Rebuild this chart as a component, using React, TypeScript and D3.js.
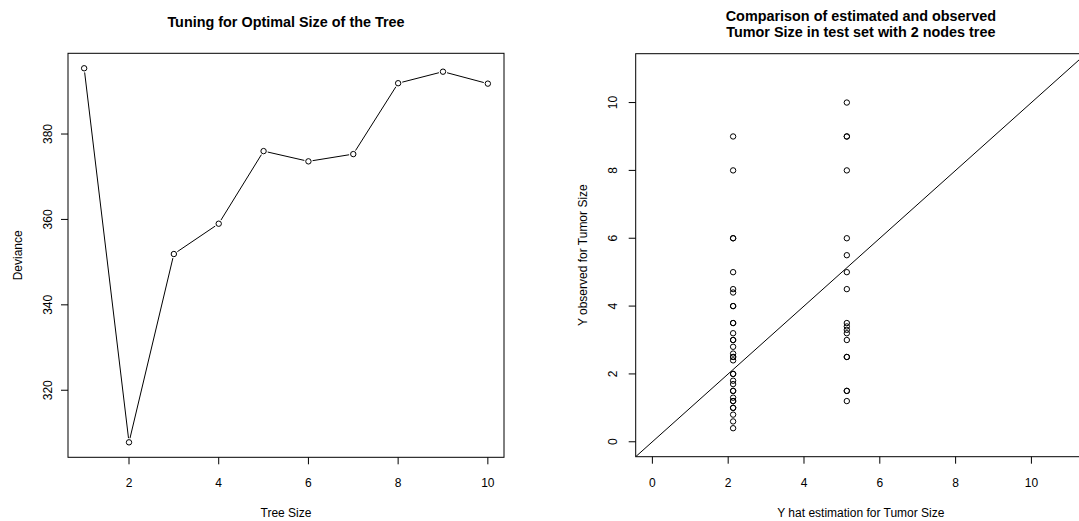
import React from "react";
import * as d3 from "d3";

// Cross-validation deviance by tree size
const treeSizes = [1, 2, 3, 4, 5, 6, 7, 8, 9, 10];
const deviance = [395.4, 307.8, 351.9, 359.0, 376.0, 373.6, 375.3, 391.9, 394.6, 391.8];
const sizeTicks = [2, 4, 6, 8, 10];
const devianceTicks = [320, 340, 360, 380];

// Test-set predictions of the 2-node tree (one fitted value per leaf)
const leafFits = [2.13, 5.13];
const observedLowLeaf = [
  9, 8, 6, 6, 5, 4.5, 4.4, 4, 4, 3.5, 3.5, 3.2, 3, 3, 2.8, 2.6, 2.5, 2.5, 2.4,
  2, 2, 1.8, 1.7, 1.5, 1.5, 1.3, 1.2, 1.2, 1, 1, 0.8, 0.6, 0.4,
];
const observedHighLeaf = [10, 9, 9, 8, 6, 5.5, 5, 4.5, 3.5, 3.4, 3.3, 3.2, 3, 2.5, 2.5, 1.5, 1.5, 1.2];
const scatterLimits = [0, 11];
const scatterTicks = [0, 2, 4, 6, 8, 10];

const FONT = "'Liberation Sans', Arial, Helvetica, sans-serif";
const R_PT = 2.7;
const TICK = 7;

// R-style axis range: data limits padded by 4% on each side
const pad = ([a, b]: number[]) => {
  const e = (b - a) * 0.04;
  return [a - e, b + e];
};

export default function App() {
  // ---- left panel ----
  const L = { left: 68, right: 504, top: 53.3, bottom: 457.3 };
  const xL = d3.scaleLinear().domain(pad(d3.extent(treeSizes) as number[])).range([L.left, L.right]);
  const yL = d3.scaleLinear().domain(pad(d3.extent(deviance) as number[])).range([L.bottom, L.top]);
  const ptsL = treeSizes.map((s, i) => [xL(s), yL(deviance[i])]);
  const gap = R_PT + 1.5;
  const segs = ptsL.slice(1).map((p, i) => {
    const q = ptsL[i];
    const dx = p[0] - q[0];
    const dy = p[1] - q[1];
    const len = Math.hypot(dx, dy);
    const ux = dx / len;
    const uy = dy / len;
    return [q[0] + ux * gap, q[1] + uy * gap, p[0] - ux * gap, p[1] - uy * gap];
  });

  // ---- right panel ----
  const R = { left: 635.7, right: 1086, top: 53.7, bottom: 456.7 };
  const xR = d3.scaleLinear().domain(pad(scatterLimits)).range([R.left, R.right]);
  const yR = d3.scaleLinear().domain(pad(scatterLimits)).range([R.bottom, R.top]);
  const scatter = [
    ...observedLowLeaf.map((v) => [leafFits[0], v]),
    ...observedHighLeaf.map((v) => [leafFits[1], v]),
  ];
  const [d0, d1] = xR.domain();

  return (
    <svg
      width={1079}
      height={521}
      style={{ position: "absolute", left: 0, top: 0, display: "block", background: "#fff" }}
      fontFamily={FONT}
    >
      <defs>
        <clipPath id="plotR">
          <rect x={R.left} y={R.top} width={R.right - R.left} height={R.bottom - R.top} />
        </clipPath>
      </defs>

      {/* Left: deviance vs tree size */}
      <text x={(L.left + L.right) / 2} y={27} textAnchor="middle" fontSize={14.4} fontWeight="bold">
        Tuning for Optimal Size of the Tree
      </text>
      <rect x={L.left} y={L.top} width={L.right - L.left} height={L.bottom - L.top} fill="none" stroke="#000" />
      {sizeTicks.map((t) => (
        <g key={t}>
          <line x1={xL(t)} x2={xL(t)} y1={L.bottom} y2={L.bottom + TICK} stroke="#000" />
          <text x={xL(t)} y={486.7} textAnchor="middle" fontSize={12}>
            {t}
          </text>
        </g>
      ))}
      {devianceTicks.map((t) => (
        <g key={t}>
          <line x1={L.left - TICK} x2={L.left} y1={yL(t)} y2={yL(t)} stroke="#000" />
          <text transform={`translate(51.7,${yL(t)}) rotate(-90)`} textAnchor="middle" fontSize={12}>
            {t}
          </text>
        </g>
      ))}
      <text x={(L.left + L.right) / 2} y={517} textAnchor="middle" fontSize={12}>
        Tree Size
      </text>
      <text transform={`translate(21.5,${(L.top + L.bottom) / 2}) rotate(-90)`} textAnchor="middle" fontSize={12}>
        Deviance
      </text>
      {segs.map((s, i) => (
        <line key={i} x1={s[0]} y1={s[1]} x2={s[2]} y2={s[3]} stroke="#000" />
      ))}
      {ptsL.map((p, i) => (
        <circle key={i} cx={p[0]} cy={p[1]} r={R_PT} fill="none" stroke="#000" />
      ))}

      {/* Right: observed vs predicted */}
      <text x={(R.left + R.right) / 2} y={21.3} textAnchor="middle" fontSize={14.4} fontWeight="bold">
        Comparison of estimated and observed
      </text>
      <text x={(R.left + R.right) / 2} y={37} textAnchor="middle" fontSize={14.4} fontWeight="bold">
        Tumor Size in test set with 2 nodes tree
      </text>
      <rect x={R.left} y={R.top} width={R.right - R.left} height={R.bottom - R.top} fill="none" stroke="#000" />
      {scatterTicks.map((t) => (
        <g key={`x${t}`}>
          <line x1={xR(t)} x2={xR(t)} y1={R.bottom} y2={R.bottom + TICK} stroke="#000" />
          <text x={xR(t)} y={486.7} textAnchor="middle" fontSize={12}>
            {t}
          </text>
        </g>
      ))}
      {scatterTicks.map((t) => (
        <g key={`y${t}`}>
          <line x1={R.left - TICK} x2={R.left} y1={yR(t)} y2={yR(t)} stroke="#000" />
          <text transform={`translate(616.7,${yR(t)}) rotate(-90)`} textAnchor="middle" fontSize={12}>
            {t}
          </text>
        </g>
      ))}
      <text x={(R.left + R.right) / 2} y={517} textAnchor="middle" fontSize={12}>
        Y hat estimation for Tumor Size
      </text>
      <text transform={`translate(586.7,${(R.top + R.bottom) / 2}) rotate(-90)`} textAnchor="middle" fontSize={12}>
        Y observed for Tumor Size
      </text>
      {scatter.map((p, i) => (
        <circle key={i} cx={xR(p[0])} cy={yR(p[1])} r={R_PT} fill="none" stroke="#000" />
      ))}
      {/* identity line y = x */}
      <line x1={xR(d0)} y1={yR(d0)} x2={xR(d1)} y2={yR(d1)} stroke="#000" clipPath="url(#plotR)" />
    </svg>
  );
}
